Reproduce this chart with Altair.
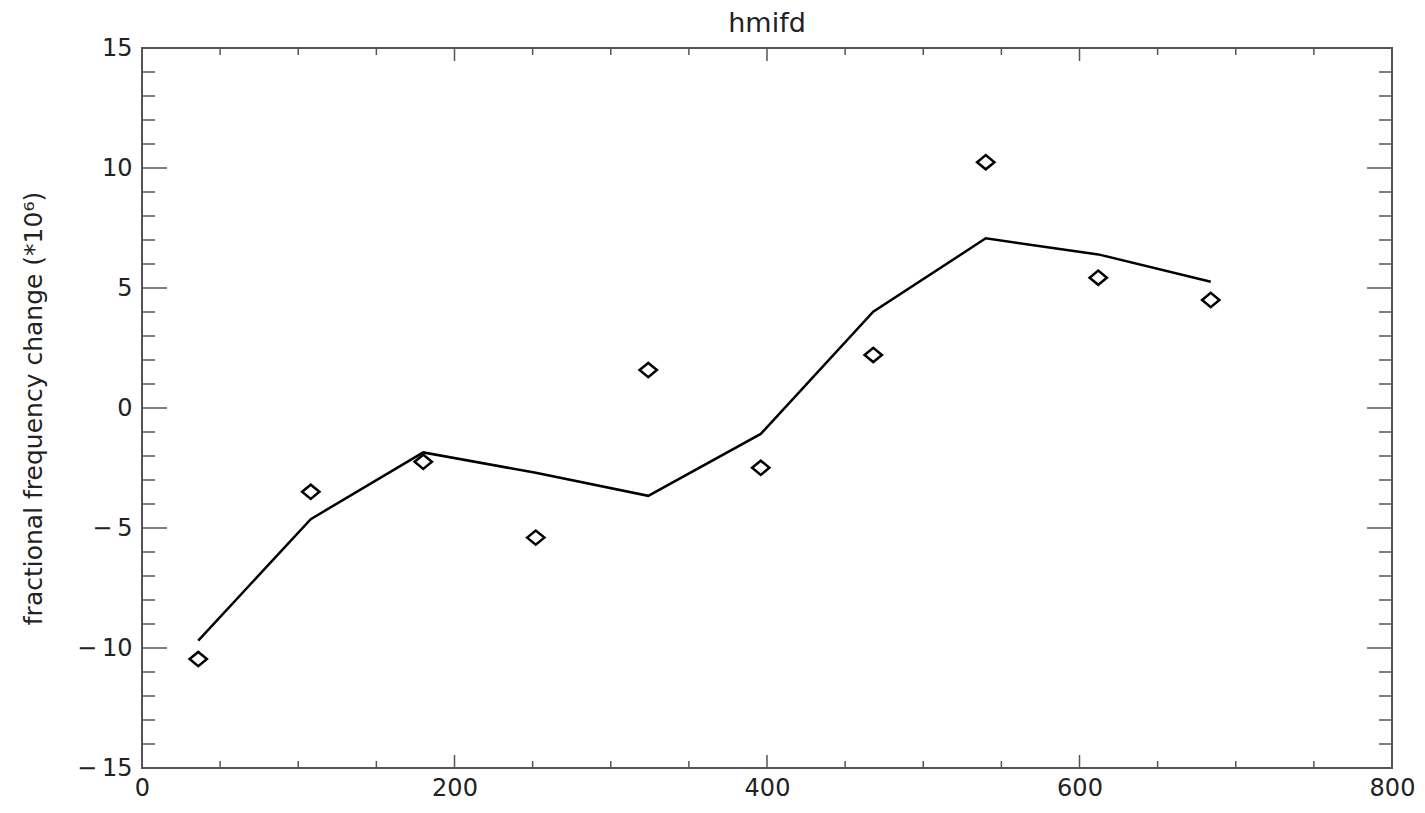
import altair as alt
import pandas as pd

# ---- data ----
x_vals = [36, 108, 180, 252, 324, 396, 468, 540, 612, 684]
observed = [-10.46, -3.49, -2.24, -5.40, 1.58, -2.49, 2.21, 10.24, 5.43, 4.50]
fitted = [-9.69, -4.63, -1.85, -2.70, -3.66, -1.08, 4.01, 7.07, 6.40, 5.26]

x_major = [0, 200, 400, 600, 800]
x_minor = [50, 100, 150, 250, 300, 350, 450, 500, 550, 650, 700, 750]
y_major = [-15, -10, -5, 0, 5, 10, 15]
y_minor = [-14, -13, -12, -11, -9, -8, -7, -6, -4, -3, -2, -1,
           1, 2, 3, 4, 6, 7, 8, 9, 11, 12, 13, 14]

TITLE = "hmifd"
YTITLE = "fractional frequency change (*10\u2076)"

W, H = 1250, 720
FONT = "DejaVu Sans"
AXC = "#555555"
TXT = "#222222"

df = pd.DataFrame({"x": x_vals, "obs": observed, "fit": fitted})
df_xmaj = pd.DataFrame({"t": x_major[1:-1]})
df_xmin = pd.DataFrame({"t": x_minor})
df_ymaj = pd.DataFrame({"t": y_major[1:-1]})
df_ymin = pd.DataFrame({"t": y_minor})

xs = alt.Scale(domain=[0, 800], nice=False, zero=False)
ys = alt.Scale(domain=[-15, 15], nice=False, zero=False)

xaxis = alt.Axis(values=x_major, ticks=False, domain=False, grid=False,
                 labelFont=FONT, labelFontSize=24, labelColor=TXT,
                 labelPadding=8, labelFlush=False, labelOverlap=False,
                 title=None)
yaxis = alt.Axis(values=y_major, ticks=False, domain=False, grid=False,
                 labelFont=FONT, labelFontSize=24, labelColor=TXT,
                 labelExpr="replace(datum.label, '\u2212', '\u2212\u2009')",
                 labelPadding=10, labelFlush=False, labelOverlap=False,
                 title=YTITLE, titleFont=FONT, titleFontSize=25,
                 titleFontWeight="normal", titleColor=TXT,
                 titleX=-109, titleY=H / 2, titleAngle=-90,
                 titleAlign="center", titleBaseline="middle")

base = alt.Chart(df)

line = base.mark_line(color="black", strokeWidth=2.5).encode(
    x=alt.X("x:Q", scale=xs, axis=xaxis),
    y=alt.Y("fit:Q", scale=ys, axis=yaxis),
)

diamond = "M -1 0 L 0 -0.82 L 1 0 L 0 0.82 Z"
pts = base.mark_point(shape=diamond, filled=False, stroke="black",
                      strokeWidth=2.5, size=300, opacity=1).encode(
    x=alt.X("x:Q", scale=xs),
    y=alt.Y("obs:Q", scale=ys),
)


def xticks(d, length):
    bottom = alt.Chart(d).mark_rule(color=AXC, strokeWidth=1.5).encode(
        x=alt.X("t:Q", scale=xs), y=alt.value(H), y2=alt.value(H - length))
    top = alt.Chart(d).mark_rule(color=AXC, strokeWidth=1.5).encode(
        x=alt.X("t:Q", scale=xs), y=alt.value(0), y2=alt.value(length))
    return bottom + top


def yticks(d, length):
    left = alt.Chart(d).mark_rule(color=AXC, strokeWidth=1.5).encode(
        y=alt.Y("t:Q", scale=ys), x=alt.value(0), x2=alt.value(length))
    right = alt.Chart(d).mark_rule(color=AXC, strokeWidth=1.5).encode(
        y=alt.Y("t:Q", scale=ys), x=alt.value(W), x2=alt.value(W - length))
    return left + right


chart = alt.layer(
    xticks(df_xmaj, 13), xticks(df_xmin, 7),
    yticks(df_ymaj, 25), yticks(df_ymin, 13),
    line, pts,
).properties(
    width=W, height=H,
    title=alt.TitleParams(TITLE, font=FONT, fontSize=27, fontWeight="normal",
                          color=TXT, offset=-2, anchor="middle"),
    autosize=alt.AutoSizeParams(type="none"),
    padding={"left": 142, "top": 48, "right": 33, "bottom": 45},
).configure(
    background="white",
    view=alt.ViewConfig(stroke=AXC, strokeWidth=2),
)

chart.save("out.html", embed_options={"renderer": "svg", "actions": False})
